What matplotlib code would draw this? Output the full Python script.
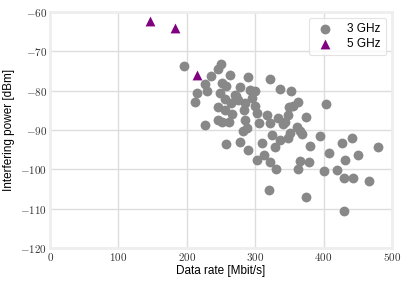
import matplotlib
matplotlib.use("Agg")
import matplotlib.pyplot as plt
from matplotlib.ticker import FuncFormatter

plt.rcParams['font.family'] = ['Liberation Sans', 'DejaVu Sans']
plt.rcParams['mathtext.fontset'] = 'cm'

# 3 GHz measurements (data rate [Mbit/s], interfering power [dBm])
rate_3ghz = [196, 250, 245, 236, 263, 290, 322, 227, 252, 257, 278, 292, 299, 336, 353,
             230, 215, 248, 272, 212, 256, 270, 265, 275, 285, 295, 300, 362, 404, 246,
             256, 266, 283, 302, 318, 334, 344, 349, 356, 348, 375, 227, 246, 251, 261,
             285, 305, 322, 341, 361, 282, 288, 324, 351, 365, 368, 348, 336, 395, 380,
             427, 441, 480, 310, 329, 257, 278, 290, 408, 450, 431, 303, 313, 322, 331,
             363, 366, 378, 400, 419, 430, 443, 467, 320, 375, 430]
power_3ghz = [-73.7, -73.3, -74.5, -76.3, -76.0, -76.6, -77.0, -78.4, -78.0, -78.8, -79.0,
              -79.8, -80.2, -79.7, -80.1, -80.0, -80.7, -80.5, -81.4, -83.0, -82.1, -81.2,
              -83.2, -82.4, -83.1, -82.0, -83.9, -82.9, -83.5, -84.1, -84.9, -86.0, -84.9,
              -85.8, -86.2, -87.0, -87.9, -84.3, -83.9, -86.2, -86.8, -88.7, -87.5, -87.9,
              -87.9, -87.5, -88.2, -88.3, -88.5, -89.3, -90.3, -89.6, -91.3, -90.9, -90.2,
              -91.0, -92.1, -92.6, -91.6, -94.1, -93.3, -92.1, -94.4, -93.4, -94.4, -93.6,
              -93.0, -95.1, -96.0, -96.3, -97.7, -97.6, -96.4, -98.1, -100.0, -100.0, -97.8,
              -98.2, -100.5, -100.2, -102.2, -102.2, -103.0, -105.3, -107.0, -110.6]

# 5 GHz measurements
rate_5ghz = [146, 182, 215]
power_5ghz = [-62.2, -64.0, -76.0]

fig, ax = plt.subplots(figsize=(4.07, 2.83), dpi=100)
fig.subplots_adjust(left=0.123, right=0.963, top=0.958, bottom=0.124)

ax.scatter(rate_3ghz, power_3ghz, s=50, color='#888888', marker='o', label='3 GHz',
           linewidths=0, zorder=3)
ax.scatter(rate_5ghz, power_5ghz, s=50, color='#800080', marker='^', label='5 GHz',
           linewidths=0, zorder=3)

ax.set_xlim(0, 500)
ax.set_ylim(-120, -60)
ax.set_xticks([0, 100, 200, 300, 400, 500])
ax.set_yticks([-120, -110, -100, -90, -80, -70, -60])
fmt = FuncFormatter(lambda v, pos: r'$%d$' % v)
ax.xaxis.set_major_formatter(fmt)
ax.yaxis.set_major_formatter(fmt)
ax.tick_params(length=0, labelsize=8, pad=2, labelcolor='#333333')

ax.grid(True, color='#dddddd', linewidth=1)
ax.set_axisbelow(True)
for sp in ax.spines.values():
    sp.set_color('#eeeeee')
    sp.set_linewidth(2)

ax.set_xlabel('Data rate [Mbit/s]', fontsize=8.5, labelpad=2)
ax.set_ylabel('Interfering power [dBm]', fontsize=8.5, labelpad=4)

leg = ax.legend(loc='upper right', fontsize=8.5, frameon=True, handletextpad=1.0,
                borderpad=0.45, labelspacing=0.25, handlelength=1.8)
leg.get_frame().set_edgecolor('#dddddd')
leg.get_frame().set_linewidth(0.8)

fig.savefig('out.png', dpi=100)
